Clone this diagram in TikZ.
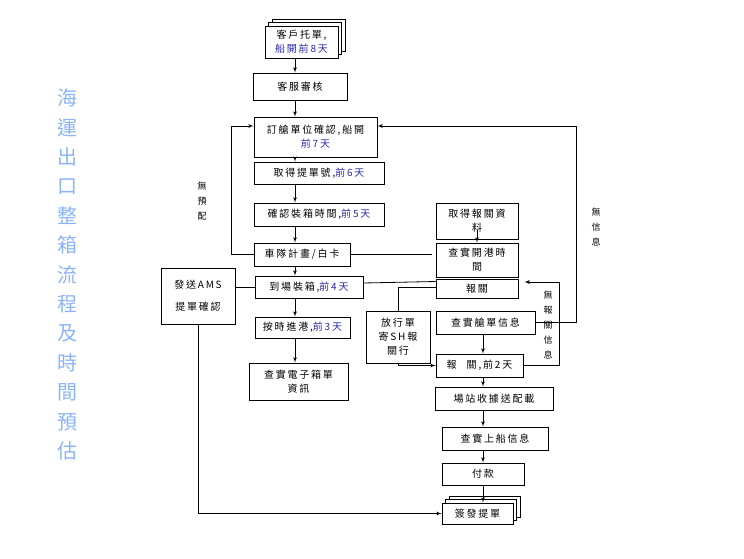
\documentclass[tikz,border=0pt]{standalone}
\usepackage{fontspec}
\newfontfamily\cjk[LetterSpace=18]{Noto Sans CJK TC}
\newfontfamily\cjktitle{Noto Sans CJK TC}
\usetikzlibrary{arrows}
\usetikzlibrary{shadows}
\definecolor{daycol}{RGB}{40,40,170}
\definecolor{titlecol}{RGB}{140,180,245}
\newcommand{\qian}[1]{\textcolor{daycol}{#1}}

\begin{document}
\begin{tikzpicture}[x=1pt,y=-1pt]
        \tikzset{box/.style = {shape=rectangle,draw,fill=white,line width=0.8pt,inner sep=1pt,align=center,font=\cjk\fontsize{10}{14}\selectfont}}
        \tikzset{pages/.style = {box,double copy shadow={shadow xshift=3.5pt,shadow yshift=3.5pt}}}
        \tikzset{link/.style = {-,line width=0.8pt,> = latex'}}
        \tikzset{note/.style = {align=center,font=\cjktitle\fontsize{9}{15}\selectfont}}

        \useasboundingbox (0,0) rectangle (744,558);

        \node[font=\cjktitle\fontsize{20}{29.4}\selectfont, text=titlecol, align=center] (title) at (67,274.5) {海\\運\\出\\口\\整\\箱\\流\\程\\及\\時\\間\\預\\估};

        \node[pages, minimum width=73, minimum height=32] (kehu) at (301.5,42) {客戶托單,\\\qian{船開前8天}};
        \node[box, minimum width=94, minimum height=27] (kefu) at (300,86.5) {客服審核};
        \node[box, minimum width=123, minimum height=40] (dingcang) at (315.5,137) {訂艙單位確認,船開\\\qian{前7天}};
        \node[box, minimum width=130, minimum height=22] (tidan) at (319,173) {取得提單號,\qian{前6天}};
        \node[box, minimum width=130, minimum height=23] (queren) at (319,214.5) {確認裝箱時間,\qian{前5天}};
        \node[box, minimum width=96, minimum height=23] (chedui) at (302,254.5) {車隊計畫/白卡};
        \node[box, minimum width=108, minimum height=22] (daochang) at (309,287) {到場裝箱,\qian{前4天}};
        \node[box, minimum width=74, minimum height=56] (ams) at (198,296) {發送AMS\\[8pt]提單確認};
        \node[box, minimum width=95, minimum height=21] (anshi) at (302.5,327.5) {按時進港,\qian{前3天}};
        \node[box, minimum width=99, minimum height=37] (dianzi) at (298.5,381.5) {查實電子箱單\\資訊};

        \node[box, minimum width=82, minimum height=36] (ziliao) at (477,221) {取得報關資\\料};
        \node[box, minimum width=82, minimum height=34] (kaigang) at (477,260) {查實開港時\\間};
        \node[box, minimum width=82, minimum height=19] (baoguan) at (477,288.5) {報關};
        \node[box, minimum width=64, minimum height=52] (fangxing) at (398,337) {放行單\\寄SH報\\關行};
        \node[box, minimum width=99, minimum height=23] (cangdan) at (485.5,322.5) {查實艙單信息};
        \node[box, minimum width=87, minimum height=23] (baoguan2) at (479.5,365.5) {報\quad 關,前2天};
        \node[box, minimum width=118, minimum height=23] (changzhan) at (494,398.5) {場站收據送配載};
        \node[box, minimum width=106, minimum height=23] (shangchuan) at (495,438.5) {查實上船信息};
        \node[box, minimum width=82, minimum height=22] (fukuan) at (483,474) {付款};
        \node[pages, minimum width=71, minimum height=21] (qianfa) at (477.5,513.5) {簽發提單};

        \node[note] (wuyupei) at (202,201) {無\\預\\配};
        \node[note] (wuxinxi) at (596,227) {無\\信\\息};
        \node[note] (wubaoguan) at (548,324.5) {無\\報\\關\\信\\息};

        \coordinate (colL) at (295,0);
        \coordinate (colR) at (483,0);
        \coordinate (loopL) at (231,126);
        \coordinate (loopR) at (576,126);
        \coordinate (loopB) at (559,282);

        \draw[link,->] (colL |- kehu.south) to (colL |- kefu.north);
        \draw[link,->] (colL |- kefu.south) to (colL |- dingcang.north);
        \draw[link,->] (colL |- dingcang.south) to (colL |- tidan.north);
        \draw[link,->] (colL |- tidan.south) to (colL |- queren.north);
        \draw[link,->] (colL |- queren.south) to (colL |- chedui.north);
        \draw[link,->] (colL |- chedui.south) to (colL |- daochang.north);
        \draw[link,->] (colL |- daochang.south) to (colL |- anshi.north);
        \draw[link,->] (colL |- anshi.south) to (colL |- dianzi.north);

        \draw[link,->] (chedui.west) -| (loopL) -- (loopL -| dingcang.west);
        \draw[link,shorten >=4pt] (chedui.east) to (chedui.east -| kaigang.west);
        \draw[link] (daochang.west) to (daochang.west -| ams.east);
        \draw[link] ([yshift=4pt]daochang.east) to ([yshift=7pt]baoguan.west);
        \draw[link,->] (ams.south) |- (qianfa.west);

        \draw[link,->] ([yshift=9pt]ziliao.south) to (kaigang.north);
        \draw[link] ([yshift=1.5pt]baoguan.west) -| (fangxing.north);
        \draw[link,->] (fangxing.south) |- (baoguan2.west);

        \draw[link,->] (cangdan.east) -| (loopR) -- (loopR -| dingcang.east);
        \draw[link,->,shorten >=6pt] (baoguan2.east) -| (loopB) -- (loopB -| baoguan.east);

        \draw[link,->] (colR |- cangdan.south) to (colR |- baoguan2.north);
        \draw[link,->] (colR |- baoguan2.south) to (colR |- changzhan.north);
        \draw[link,->] (colR |- changzhan.south) to (colR |- shangchuan.north);
        \draw[link,->] (colR |- shangchuan.south) to (colR |- fukuan.north);
        \draw[link,->] (colR |- fukuan.south) to (colR |- qianfa.north);
      \end{tikzpicture}
\end{document}
